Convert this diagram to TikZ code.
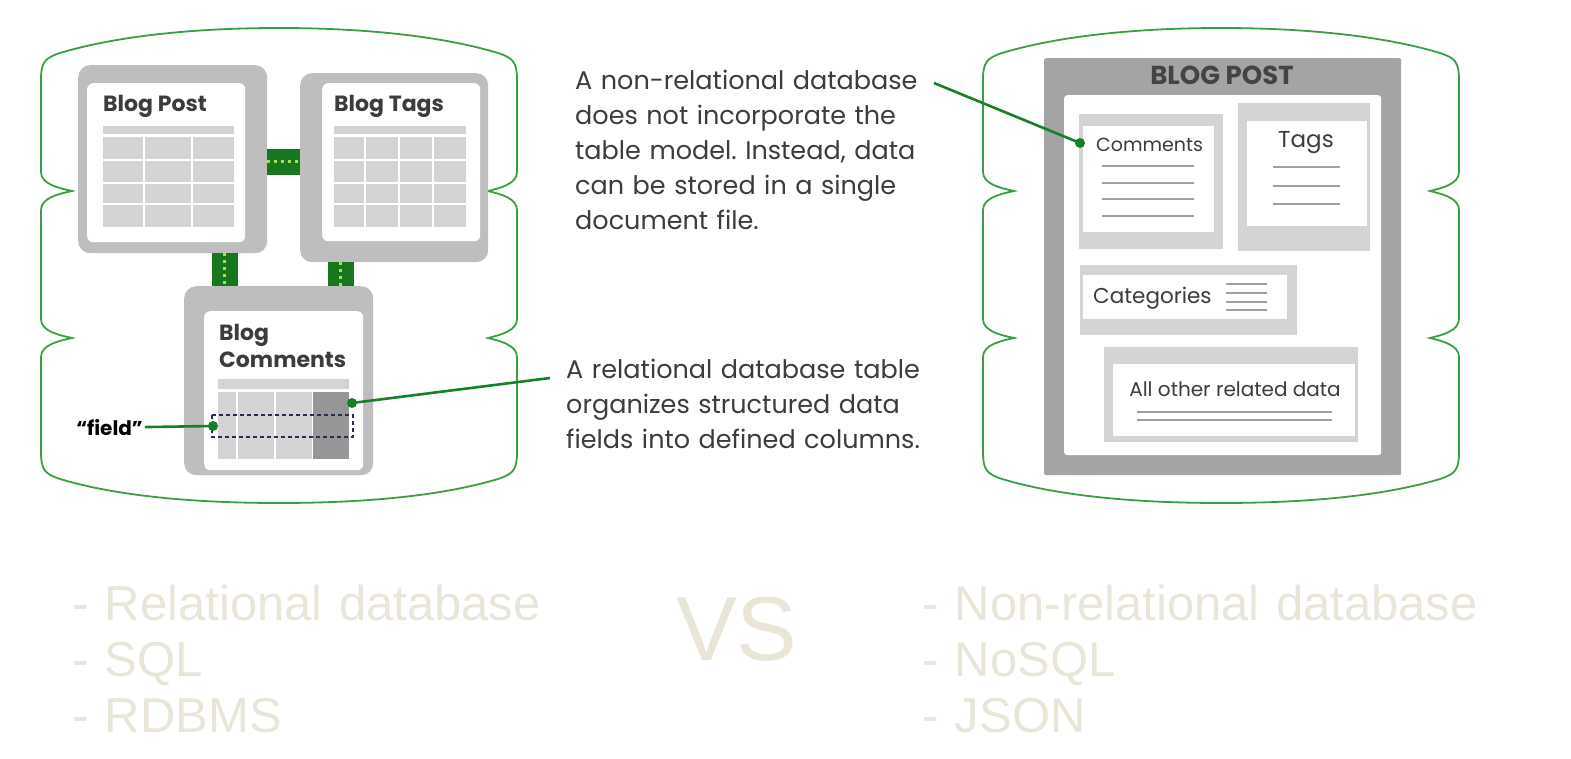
\documentclass[tikz,border=0pt]{standalone}
\usepackage{fontspec}
\setmainfont{Poppins}
\newfontfamily\arialfont{Liberation Sans}
\usetikzlibrary{positioning}
\frenchspacing

\definecolor{dbgreen}{RGB}{58,158,68}
\definecolor{linkgreen}{RGB}{24,118,30}
\definecolor{dotgreen}{RGB}{170,225,70}
\definecolor{pingreen}{RGB}{22,128,40}
\definecolor{tblgray}{RGB}{190,190,190}
\definecolor{cellgray}{RGB}{212,212,212}
\definecolor{darkcell}{RGB}{150,150,150}
\definecolor{bpgray}{RGB}{164,164,164}
\definecolor{rulegray}{RGB}{160,160,160}
\definecolor{txtgray}{RGB}{60,60,60}
\definecolor{dashnavy}{RGB}{40,45,85}
\definecolor{vsbeige}{RGB}{233,230,216}

\begin{document}
\begin{tikzpicture}[
  x=1pt, y=-1pt,
  dbline/.style={draw=dbgreen, line width=1.8pt},
  tblouter/.style={fill=tblgray, rounded corners=12pt, anchor=north west, inner sep=0pt},
  tblinner/.style={fill=white, rounded corners=6pt, anchor=north west, inner sep=0pt},
  tbltitle/.style={anchor=base west, inner sep=0pt, text=txtgray, font=\bfseries\fontsize{22}{27}\selectfont, align=left},
  link/.style={draw=linkgreen, line width=26pt, postaction={draw=dotgreen, line width=3pt, dash pattern=on 3pt off 4pt}},
  pin/.style={draw=pingreen, line width=2.6pt},
  pindot/.style={fill=pingreen},
  desc/.style={anchor=base west, inner sep=0pt, text=txtgray, text width=440pt, align=left, font=\fontsize{25.5}{35}\selectfont},
  bpouter/.style={fill=bpgray, rounded corners=2pt, anchor=north west, inner sep=0pt},
  bpinner/.style={fill=white, rounded corners=3pt, anchor=north west, inner sep=0pt},
  docouter/.style={fill=cellgray, anchor=north west, inner sep=0pt},
  docinner/.style={fill=white, anchor=north west, inner sep=0pt},
  doclbl/.style={inner sep=0pt, text=txtgray},
  docrule/.style={draw=rulegray, line width=2pt},
  vstext/.style={anchor=base west, inner sep=0pt, text=vsbeige, text width=700pt, align=left, font=\arialfont\fontsize{49}{56}\selectfont},
]
\useasboundingbox (0,0) rectangle (1571,759);

%%% Database outlines
\foreach \dx in {0,942}{
  \begin{scope}[xshift=\dx pt]
    \draw[dbline] (41,80) .. controls (41,62) and (45,58) .. (60,53) .. controls (120,35) and (200,28) .. (279,28)
      .. controls (358,28) and (438,35) .. (498,53) .. controls (513,58) and (517,62) .. (517,80)
      -- (517,172) .. controls (517,184) and (500,188) .. (488,191) .. controls (500,194) and (517,198) .. (517,210)
      -- (517,319) .. controls (517,331) and (500,335) .. (488,338) .. controls (500,341) and (517,345) .. (517,357)
      -- (517,452) .. controls (517,470) and (513,474) .. (498,479) .. controls (438,497) and (358,503) .. (279,503)
      .. controls (200,503) and (120,497) .. (60,479) .. controls (45,474) and (41,470) .. (41,452)
      -- (41,357) .. controls (41,345) and (58,341) .. (72,338) .. controls (58,335) and (41,331) .. (41,319)
      -- (41,210) .. controls (41,198) and (58,194) .. (72,191) .. controls (58,188) and (41,184) .. (41,172) -- cycle;
  \end{scope}
}

%%% Relational tables
\node[tblouter, minimum width=189pt, minimum height=188pt] (post) at (78,65) {};
\node[tblinner, minimum width=158pt, minimum height=159pt] (postin) at (87,83) {};
\node[tbltitle] (posttitle) at (103,112) {Blog Post};
\fill[cellgray] (103,126) rectangle (234,134);
\foreach \xa/\xb in {103/143,145/191,193/234}
  \foreach \ya/\yb in {137/159,161/182,184/203,205/227}
    \fill[cellgray] (\xa,\ya) rectangle (\xb,\yb);

\node[tblouter, minimum width=188pt, minimum height=189pt] (tags) at (300,73) {};
\node[tblinner, minimum width=158pt, minimum height=158pt] (tagsin) at (322,83) {};
\node[tbltitle] (tagstitle) at (334,112) {Blog Tags};
\fill[cellgray] (334,126) rectangle (466,134);
\foreach \xa/\xb in {334/364,366/398,400/432,434/466}
  \foreach \ya/\yb in {137/159,161/182,184/203,205/227}
    \fill[cellgray] (\xa,\ya) rectangle (\xb,\yb);

\node[tblouter, minimum width=189pt, minimum height=189pt] (cmts) at (184,286) {};
\node[tblinner, minimum width=159pt, minimum height=159pt] (cmtsin) at (204,311) {};
\node[tbltitle] (cmtstitle) at (219,367) {Blog\\Comments};
\fill[cellgray] (218,379) rectangle (349,389);
\foreach \xa/\xb in {218/236,238/274,276/312}
  \fill[cellgray] (\xa,392) rectangle (\xb,459);
\fill[darkcell] (313,392) rectangle (349,459);
\draw[dashnavy, line width=1.6pt, dash pattern=on 4pt off 3pt] (212,415) rectangle (353,437);

%%% Links between tables
\draw[link] (post.east |- 0,162) -- (tags.west |- 0,162);
\draw[link] (224.5,0 |- post.south) -- (224.5,0 |- cmts.north);
\draw[link] (340.5,0 |- tags.south) -- (340.5,0 |- cmts.north);

%%% Document store
\node[bpouter, minimum width=357pt, minimum height=417pt] (bp) at (1044,58) {};
\node[bpinner, minimum width=317pt, minimum height=360pt] (bpin) at (1064,95) {};
\node[doclbl, anchor=base, text={rgb,255:red,68;green,68;blue,68}, font=\bfseries\fontsize{26}{30}\selectfont] (bptitle) at (1222,85) {BLOG POST};

\node[docouter, minimum width=144pt, minimum height=135pt] (cmtbox) at (1079,114) {};
\node[docinner, minimum width=131pt, minimum height=106pt] (cmtboxin) at (1083,126) {};
\node[doclbl, anchor=base west, font=\fontsize{19}{22}\selectfont] (cmtlbl) at (1096,152) {Comments};
\foreach \y in {166,183,199,216}
  \draw[docrule] (1102,\y) -- (1194,\y);

\node[docouter, minimum width=132pt, minimum height=148pt] (tagbox) at (1238,103) {};
\node[docinner, minimum width=120pt, minimum height=105pt] (tagboxin) at (1247,121) {};
\node[doclbl, anchor=base, font=\fontsize{23}{27}\selectfont] (taglbl) at (1306,148) {Tags};
\foreach \y in {167,186,204}
  \draw[docrule] (1273,\y) -- (1340,\y);

\node[docouter, minimum width=217pt, minimum height=70pt] (catbox) at (1080,265) {};
\node[docinner, minimum width=204pt, minimum height=44pt] (catboxin) at (1083,275) {};
\node[doclbl, anchor=base west, font=\fontsize{21.5}{25}\selectfont] (catlbl) at (1093,303) {Categories};
\foreach \y in {284,293,302,310}
  \draw[docrule, line width=1.6pt] (1226,\y) -- (1267,\y);

\node[docouter, minimum width=254pt, minimum height=95pt] (othbox) at (1104,347) {};
\node[docinner, minimum width=242pt, minimum height=72pt] (othboxin) at (1113,364) {};
\node[doclbl, anchor=base, font=\fontsize{20}{24}\selectfont] (othlbl) at (1235,396) {All other related data};
\foreach \y in {412,420}
  \draw[docrule] (1137,\y) -- (1332,\y);

%%% Call-outs
\node[desc] (nrdesc) at (575,90) {A non-relational database\\does not incorporate the\\table model. Instead, data\\can be stored in a single\\document file.};
\node[desc] (rdesc) at (566,378) {A relational database table\\organizes structured data\\fields into defined columns.};
\node[anchor=base east, inner sep=2pt, font=\bfseries\fontsize{20}{24}\selectfont] (fieldlbl) at (145,435) {“field”};

\coordinate (nrpin) at (934,83);
\coordinate (cmtdot) at (1080,143);
\coordinate (rpin) at (550,378);
\coordinate (coldot) at (352,403);
\coordinate (flddot) at (213,426);

\draw[pin] (nrpin) -- (cmtdot);
\draw[pin] (rpin) -- (coldot);
\draw[pin] (fieldlbl.east) -- (flddot);
\foreach \d in {cmtdot,coldot,flddot}
  \fill[pindot] (\d) circle (5pt);

%%% Comparison list
\node[vstext] (rlist) at (72,620) {- Relational database\\- SQL\\- RDBMS};
\node[vstext, text width=200pt, font=\arialfont\fontsize{91}{100}\selectfont] (vs) at (676,660) {VS};
\node[vstext] (nrlist) at (922,620) {- Non-relational database\\- NoSQL\\- JSON};

\end{tikzpicture}
\end{document}
